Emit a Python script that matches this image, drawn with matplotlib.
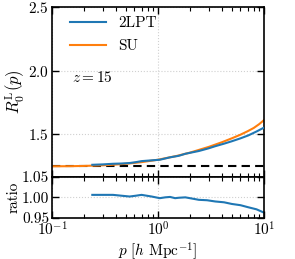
import numpy as np
import matplotlib
matplotlib.use("Agg")
import matplotlib.pyplot as plt

plt.rcParams['font.family'] = 'serif'
plt.rcParams['font.serif'] = ['cmr10']
plt.rcParams['mathtext.fontset'] = 'cm'
plt.rcParams['axes.formatter.use_mathtext'] = True
plt.rcParams['axes.unicode_minus'] = False

# SU curve
p_su = [0.1, 0.15, 0.2, 0.3, 0.4, 0.5, 0.7, 1.0, 1.5, 2.0, 3.0, 4.0, 5.0, 6.0, 7.0, 8.0, 9.0, 10.0]
r_su = [1.245, 1.246, 1.248, 1.253, 1.259, 1.265, 1.278, 1.297, 1.327, 1.353, 1.398,
        1.435, 1.467, 1.495, 1.522, 1.548, 1.578, 1.61]

# 2LPT curve
p_2lpt = [0.24, 0.3, 0.376, 0.45, 0.54, 0.62, 0.70, 0.87, 1.04, 1.3, 1.57, 1.81,
          2.43, 3.0, 3.47, 4.2, 4.97, 6.0, 7.1, 8.5, 9.8, 10.0]
r_2lpt = [1.257, 1.260, 1.265, 1.267, 1.271, 1.278, 1.286, 1.292, 1.297, 1.316, 1.328,
          1.344, 1.366, 1.387, 1.404, 1.424, 1.443, 1.466, 1.489, 1.520, 1.547, 1.550]

# ratio 2LPT / SU
p_ratio = [0.24, 0.3, 0.376, 0.45, 0.54, 0.62, 0.70, 0.87, 1.04, 1.17, 1.3, 1.45, 1.57,
           1.81, 2.1, 2.43, 2.9, 3.47, 4.2, 4.97, 6.0, 7.1, 8.5, 9.8, 10.0]
ratio = [1.006, 1.006, 1.006, 1.004, 1.002, 1.004, 1.006, 1.002, 0.998, 1.000, 1.001,
         0.998, 0.999, 1.000, 0.997, 0.994, 0.993, 0.990, 0.988, 0.984, 0.981, 0.976,
         0.971, 0.964, 0.963]

baseline = 1.25

fig = plt.figure(figsize=(2.95, 2.59), dpi=100)
ax = fig.add_axes([0.1763, 0.3178, 0.7186, 0.6533])
axr = fig.add_axes([0.1763, 0.1583, 0.7186, 0.1595], sharex=ax)

blue = '#1f77b4'
orange = '#ff7f0e'
ax.plot(p_2lpt, r_2lpt, color=blue, lw=1.5, label='2LPT', zorder=3)
ax.plot(p_su, r_su, color=orange, lw=1.5, label='SU', zorder=2)
ax.axhline(baseline, color='k', ls='--', lw=1.5, dashes=(4, 2.5), zorder=1)
ax.set_xscale('log')
ax.set_xlim(0.1, 10)
ax.set_ylim(1.163, 2.5)
ax.set_yticks([1.5, 2.0, 2.5])
ax.set_ylabel(r'$R_0^{\rm L}(p)$', fontsize=12, labelpad=1)
ax.text(0.095, 0.56, r'$z=15$', transform=ax.transAxes, fontsize=11)
ax.legend(loc='upper left', frameon=False, fontsize=11, handlelength=2.4,
          borderaxespad=0.2, labelspacing=0.6, handletextpad=0.8,
          bbox_to_anchor=(0.04, 1.0))
plt.setp(ax.get_xticklabels(), visible=False)

axr.plot(p_ratio, ratio, color=blue, lw=1.5)
axr.set_ylim(0.95, 1.05)
axr.set_yticks([0.95, 1.00, 1.05])
axr.set_yticklabels(['0.95', '1.00', '1.05'])
axr.set_ylabel('ratio', fontsize=11, labelpad=1)
axr.set_xlabel(r'$p\ [h\ {\rm Mpc}^{-1}]$', fontsize=11, labelpad=1)

for a in (ax, axr):
    a.grid(True, which='major', color='#d0d0d0', ls=':', lw=0.8)
    a.tick_params(which='both', direction='in', top=True, right=True, labelsize=11, pad=2)
    a.tick_params(which='major', length=5, width=1)
    a.tick_params(which='minor', length=3, width=0.8)
    for s in a.spines.values():
        s.set_linewidth(1.2)

fig.savefig('out.png', dpi=100)
